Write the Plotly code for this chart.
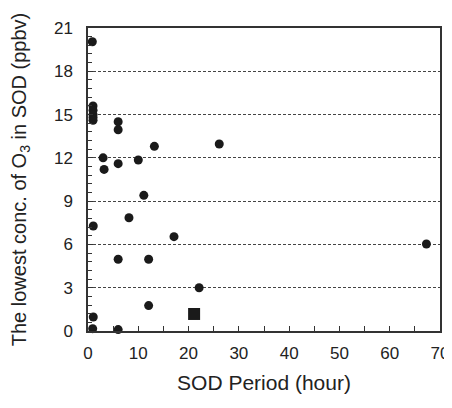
import plotly.graph_objects as go

sod_hours = [0.86, 1.0, 1.0, 1.0, 1.0, 1.0, 6.0, 6.0, 3.0, 3.2, 6.0, 10.0, 13.2, 26.1,
             11.1, 8.15, 1.05, 17.1, 6.0, 12.06, 22.1, 12.06, 1.05, 0.93, 6.0, 67.3]
lowest_o3 = [20.05, 15.6, 15.3, 15.0, 14.8, 14.6, 14.5, 13.95, 12.0, 11.2, 11.6, 11.85, 12.8, 12.96,
             9.4, 7.85, 7.28, 6.54, 4.97, 4.97, 3.0, 1.76, 0.97, 0.16, 0.1, 6.03]
square_x = [21.1]
square_y = [1.18]
y_ticks = [0, 3, 6, 9, 12, 15, 18, 21]
x_ticks = [0, 10, 20, 30, 40, 50, 60, 70]

fig = go.Figure()
fig.add_trace(go.Scatter(x=sod_hours, y=lowest_o3, mode="markers",
                         marker=dict(symbol="circle", size=9, color="#1a1a1a"),
                         showlegend=False, cliponaxis=False))
fig.add_trace(go.Scatter(x=square_x, y=square_y, mode="markers",
                         marker=dict(symbol="square", size=12, color="#1a1a1a"),
                         showlegend=False))

font = dict(family="Liberation Sans, Arial, sans-serif", size=17, color="#222")
fig.update_layout(
    width=444, height=392,
    margin=dict(l=80, r=12, t=20, b=69, autoexpand=False),
    paper_bgcolor="white", plot_bgcolor="white",
    font=font,
    xaxis=dict(range=[0, 70], tickvals=x_ticks, ticks="inside", ticklen=5,
               tickcolor="#333", showgrid=False, zeroline=False, automargin=False,
               showline=True, linecolor="#333", linewidth=1.5, mirror=True,
               minor=dict(dtick=5, ticks="inside", ticklen=5, tickcolor="#333"),
               title=dict(text="SOD Period (hour)", font=dict(size=21), standoff=13),
               ticklabelstandoff=6, ticklabeloverflow="allow"),
    yaxis=dict(range=[0, 21], tickvals=y_ticks, ticks="inside", ticklen=5,
               tickcolor="#333", showgrid=True, gridcolor="#444", griddash="3px,2px",
               gridwidth=1, zeroline=False, automargin=False,
               showline=True, linecolor="#333", linewidth=1.5, mirror=True,
               minor=dict(dtick=0.6, ticks="inside", ticklen=4, tickcolor="#333"),
               title=dict(text="The lowest conc. of O<sub>3</sub> in SOD (ppbv)",
                          font=dict(size=20), standoff=23),
               ticklabelstandoff=10, ticklabeloverflow="allow"),
)
fig.write_html("out.html")
